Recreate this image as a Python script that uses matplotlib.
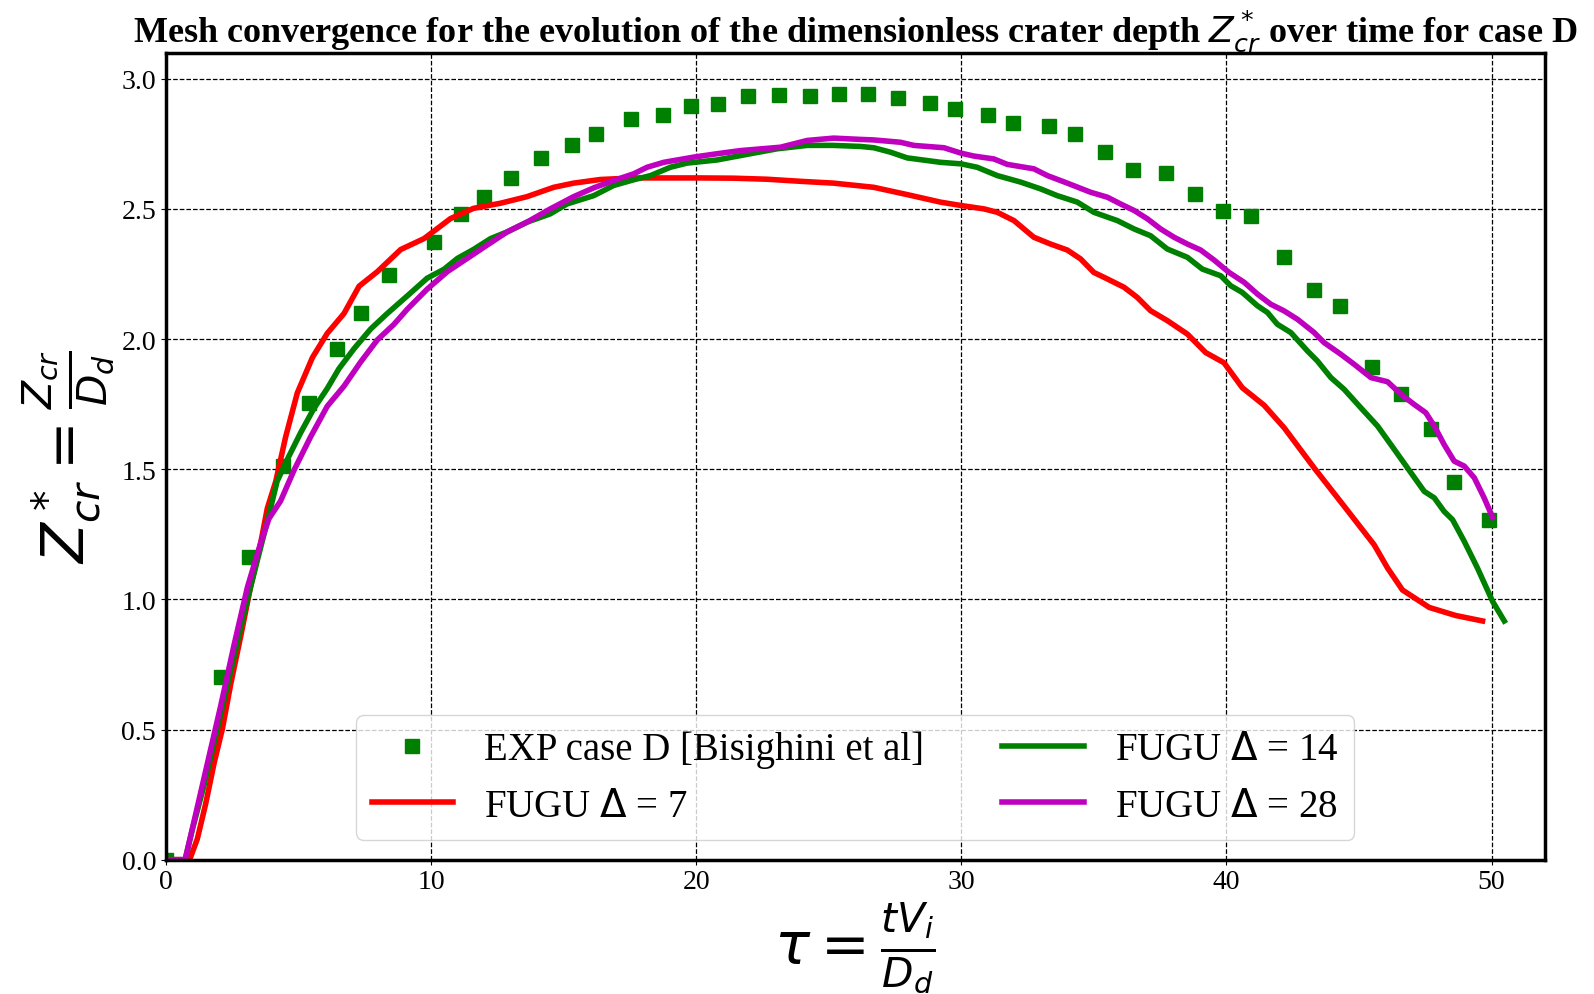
import matplotlib
matplotlib.use("Agg")
import matplotlib.pyplot as plt

plt.rcParams['font.family'] = ['Liberation Serif', 'DejaVu Sans']
plt.rcParams['mathtext.fontset'] = 'dejavusans'

# Experimental data (case D, Bisighini et al)
exp_x = [0, 2.09, 3.14, 4.43, 5.39, 6.44, 7.36, 8.40, 10.1, 11.14, 12.0, 13.03, 14.15,
         15.32, 16.24, 17.56, 18.74, 19.79, 20.83, 21.96, 23.13, 24.31, 25.4, 26.49,
         27.6, 28.84, 29.76, 31.02, 31.94, 33.32, 34.3, 35.42, 36.48, 37.72, 38.83,
         39.89, 40.94, 42.19, 43.31, 44.29, 45.48, 46.6, 47.72, 48.59, 49.91]
exp_y = [0, 0.703, 1.163, 1.513, 1.756, 1.963, 2.10, 2.246, 2.373, 2.48, 2.547, 2.617,
         2.695, 2.744, 2.786, 2.846, 2.859, 2.894, 2.904, 2.932, 2.938, 2.932, 2.942,
         2.942, 2.927, 2.908, 2.882, 2.859, 2.831, 2.817, 2.786, 2.718, 2.65, 2.637,
         2.558, 2.491, 2.472, 2.316, 2.189, 2.126, 1.894, 1.79, 1.655, 1.452, 1.305]

# FUGU Delta = 7
d7_x = [0, 0.9, 1.19, 1.51, 1.82, 2.14, 2.45, 2.83, 3.2, 3.58, 3.83, 4.15, 4.52, 4.96,
        5.53, 6.09, 6.72, 7.29, 7.98, 8.86, 9.74, 10.74, 11.6, 12.63, 13.62, 14.63,
        15.38, 16.39, 17.65, 18.9, 20.16, 21.42, 22.68, 23.94, 25.19, 26.7, 27.96,
        29.22, 30.0, 30.86, 31.36, 31.99, 32.74, 33.37, 34.0, 34.5, 35.0, 35.51, 36.14,
        36.64, 37.14, 37.77, 38.53, 39.22, 39.91, 40.6, 41.42, 42.18, 43.31, 44.44,
        45.57, 46.08, 46.64, 47.65, 48.65, 49.66]
d7_y = [0, 0, 0.08, 0.217, 0.37, 0.505, 0.675, 0.86, 1.05, 1.217, 1.35, 1.454, 1.624,
        1.793, 1.929, 2.022, 2.098, 2.203, 2.259, 2.344, 2.386, 2.463, 2.502, 2.522,
        2.547, 2.583, 2.599, 2.613, 2.619, 2.619, 2.619, 2.618, 2.614, 2.606, 2.599,
        2.583, 2.555, 2.526, 2.513, 2.5, 2.487, 2.455, 2.391, 2.365, 2.342, 2.308,
        2.256, 2.231, 2.199, 2.16, 2.109, 2.071, 2.019, 1.948, 1.909, 1.813, 1.746,
        1.659, 1.505, 1.358, 1.21, 1.12, 1.036, 0.969, 0.938, 0.917]

# FUGU Delta = 14
d14_x = [0, 0.73, 1.0, 1.44, 1.95, 2.45, 2.95, 3.45, 3.83, 4.2, 4.59, 5.09, 5.59, 6.09,
         6.53, 7.1, 7.73, 8.35, 9.11, 9.86, 10.49, 11.0, 11.6, 12.25, 12.88, 13.62,
         14.5, 15.13, 16.14, 16.89, 17.65, 18.28, 19.03, 19.66, 20.79, 22.05, 23.06,
         24.19, 25.19, 26.2, 26.7, 27.33, 27.96, 29.22, 30.0, 30.6, 31.36, 32.24, 32.99,
         33.62, 34.38, 35.0, 35.89, 36.52, 37.14, 37.77, 38.53, 39.09, 39.79, 40.16,
         40.6, 41.17, 41.55, 41.92, 42.43, 43.06, 43.43, 43.94, 44.44, 45.07, 45.7,
         46.2, 46.83, 47.46, 47.84, 48.21, 48.53, 48.97, 49.47, 50.04, 50.48]
d14_y = [0, 0, 0.115, 0.285, 0.505, 0.725, 0.946, 1.149, 1.30, 1.454, 1.539, 1.641,
         1.734, 1.81, 1.886, 1.963, 2.039, 2.098, 2.166, 2.234, 2.268, 2.31, 2.344,
         2.386, 2.412, 2.449, 2.481, 2.519, 2.551, 2.59, 2.612, 2.628, 2.66, 2.676,
         2.688, 2.712, 2.731, 2.744, 2.744, 2.74, 2.735, 2.718, 2.696, 2.679, 2.673,
         2.66, 2.628, 2.603, 2.577, 2.551, 2.526, 2.487, 2.455, 2.423, 2.397, 2.346,
         2.314, 2.269, 2.243, 2.205, 2.179, 2.128, 2.102, 2.057, 2.025, 1.954, 1.916,
         1.852, 1.807, 1.736, 1.666, 1.595, 1.505, 1.415, 1.39, 1.338, 1.306, 1.223,
         1.12, 0.992, 0.917]

# FUGU Delta = 28
d28_x = [0, 0.73, 1.07, 1.57, 2.07, 2.58, 3.08, 3.58, 3.89, 4.33, 4.84, 5.46, 6.09,
         6.72, 7.35, 7.98, 8.6, 9.11, 9.86, 10.62, 11.37, 12.12, 12.88, 13.62, 14.5,
         15.38, 16.14, 16.89, 17.65, 18.15, 18.78, 19.91, 20.79, 21.67, 23.18, 24.19,
         25.19, 26.2, 26.7, 27.71, 28.21, 29.35, 30.0, 30.48, 31.23, 31.74, 32.74,
         33.25, 34.0, 34.88, 35.51, 36.01, 36.52, 37.02, 37.52, 38.03, 38.53, 39.03,
         39.53, 40.1, 40.67, 41.17, 41.67, 42.18, 42.68, 43.31, 43.69, 44.31, 44.82,
         45.45, 46.08, 46.58, 47.08, 47.52, 47.84, 48.21, 48.59, 48.97, 49.35, 49.72,
         50.04]
d28_y = [0, 0, 0.149, 0.37, 0.59, 0.827, 1.047, 1.217, 1.31, 1.378, 1.497, 1.624,
         1.742, 1.819, 1.912, 1.997, 2.056, 2.115, 2.192, 2.259, 2.31, 2.361, 2.412,
         2.449, 2.5, 2.547, 2.581, 2.609, 2.635, 2.66, 2.679, 2.699, 2.712, 2.724,
         2.737, 2.763, 2.772, 2.767, 2.765, 2.756, 2.744, 2.735, 2.714, 2.703, 2.692,
         2.671, 2.654, 2.628, 2.599, 2.564, 2.545, 2.519, 2.494, 2.462, 2.423, 2.391,
         2.365, 2.342, 2.304, 2.256, 2.218, 2.173, 2.134, 2.108, 2.076, 2.025, 1.986,
         1.942, 1.903, 1.852, 1.836, 1.788, 1.749, 1.717, 1.666, 1.595, 1.531, 1.512,
         1.467, 1.39, 1.315]

labels = ['EXP case D [Bisighini et al]', r'FUGU $\Delta$ = 7',
          r'FUGU $\Delta$ = 14', r'FUGU $\Delta$ = 28']
title = (r'Mesh convergence for the evolution of the dimensionless crater depth '
         r'$Z_{cr}^*$ over time for case D')

fig = plt.figure(figsize=(15.94, 9.95), dpi=100)
ax = fig.add_subplot(111)
fig.subplots_adjust(left=0.104, right=0.969, top=0.946, bottom=0.135)

ax.plot(exp_x, exp_y, 's', color='green', markersize=10, label=labels[0])
ax.plot(d7_x, d7_y, '-', color='red', linewidth=4, label=labels[1])
ax.plot(d14_x, d14_y, '-', color='green', linewidth=4, label=labels[2])
ax.plot(d28_x, d28_y, '-', color='m', linewidth=4, label=labels[3])

ax.set_xlim(0, 52)
ax.set_ylim(0, 3.1)
ax.set_xticks([0, 10, 20, 30, 40, 50])
ax.set_yticks([0.0, 0.5, 1.0, 1.5, 2.0, 2.5, 3.0])
ax.set_yticklabels(['0.0', '0.5', '1.0', '1.5', '2.0', '2.5', '3.0'])
ax.tick_params(labelsize=20)
ax.grid(True, color='k', linestyle='--', linewidth=0.9)
for s in ax.spines.values():
    s.set_linewidth(2.5)

ax.set_xlabel(r'$\tau = \frac{tV_i}{D_d}$', fontsize=42)
ax.set_ylabel(r'$Z_{cr}^* = \frac{Z_{cr}}{D_d}$', fontsize=42)
ax.set_title(title, fontsize=26, fontweight='bold')

ax.legend(loc='lower center', ncol=2, fontsize=28, numpoints=1,
          handlelength=2.1, columnspacing=2.0, borderaxespad=0.5)

fig.savefig('out.png', dpi=100)
